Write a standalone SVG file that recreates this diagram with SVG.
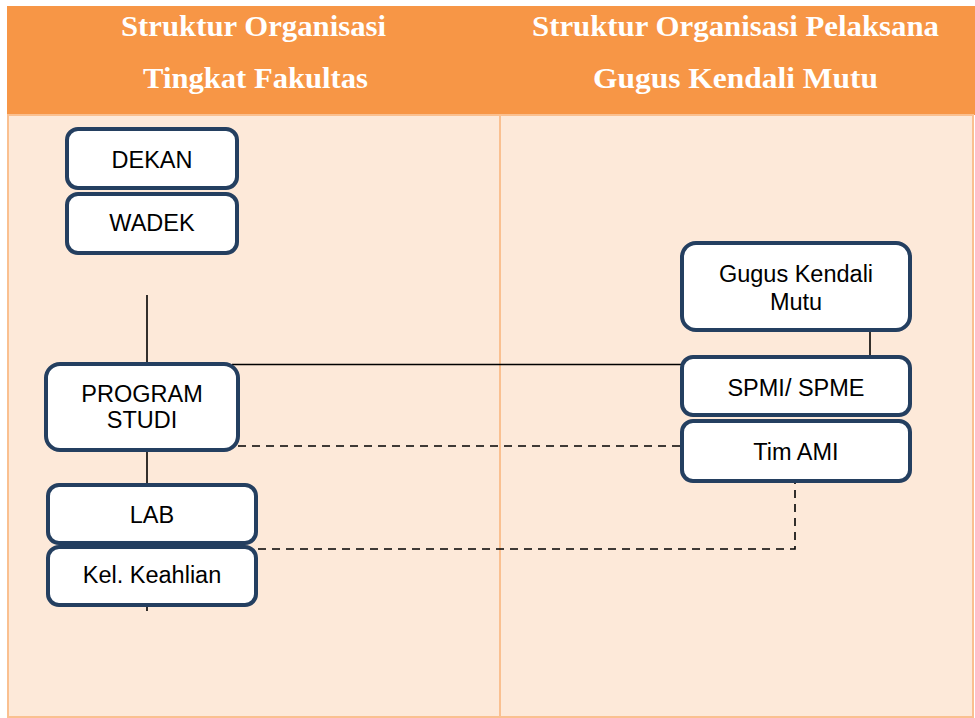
<svg xmlns="http://www.w3.org/2000/svg" width="975" height="718" viewBox="0 0 975 718">
<style>
.hdr{font-family:"Liberation Serif","Times New Roman",serif;font-weight:bold;font-size:29px;fill:#ffffff;}
.box{fill:#ffffff;stroke:#243f60;stroke-width:4;}
.lbl{font-family:"Liberation Sans",Arial,sans-serif;font-size:23.5px;fill:#000000;text-anchor:middle;}
.solid{stroke:#000000;stroke-width:1.6;fill:none;}
.dash{stroke:#000000;stroke-width:1.6;fill:none;stroke-dasharray:8 6;}
</style>
<rect x="0" y="0" width="975" height="718" fill="#ffffff"/>
<rect x="7" y="6" width="968" height="109" fill="#f79646"/>
<rect x="8" y="115" width="965" height="602" fill="#fde9d9" stroke="#fac090" stroke-width="2"/>
<line x1="500" y1="115" x2="500" y2="717" stroke="#fac090" stroke-width="2"/>
<g id="headers">
<text class="hdr" x="121" y="36" textLength="265" lengthAdjust="spacingAndGlyphs">Struktur Organisasi</text>
<text class="hdr" x="143" y="88" textLength="225" lengthAdjust="spacingAndGlyphs">Tingkat Fakultas</text>
<text class="hdr" x="532" y="36" textLength="407" lengthAdjust="spacingAndGlyphs">Struktur Organisasi Pelaksana</text>
<text class="hdr" x="593" y="88" textLength="285" lengthAdjust="spacingAndGlyphs">Gugus Kendali Mutu</text>
</g>
<g id="connectors">
<line class="solid" x1="147" y1="295" x2="147" y2="362"/>
<line class="solid" x1="147" y1="452" x2="147" y2="485"/>
<line class="solid" x1="147" y1="607" x2="147" y2="611"/>
<line class="solid" x1="232" y1="364.5" x2="684" y2="364.5"/>
<line class="solid" x1="870" y1="332" x2="870" y2="357"/>
<line class="dash" x1="238" y1="446" x2="682" y2="446"/>
<polyline class="dash" points="244,549 795,549 795,483"/>
</g>
<g id="dekan">
<rect class="box" x="67" y="129" width="170" height="59" rx="11"/>
<text class="lbl" x="152" y="168">DEKAN</text>
</g>
<g id="wadek">
<rect class="box" x="67" y="194" width="170" height="59" rx="11"/>
<text class="lbl" x="152" y="231">WADEK</text>
</g>
<g id="program-studi">
<rect class="box" x="46" y="364" width="192" height="86" rx="14"/>
<text class="lbl" x="142" y="402">PROGRAM</text>
<text class="lbl" x="142" y="428">STUDI</text>
</g>
<g id="lab">
<rect class="box" x="48" y="485" width="208" height="58" rx="11"/>
<text class="lbl" x="152" y="523">LAB</text>
</g>
<g id="kel-keahlian">
<rect class="box" x="48" y="547" width="208" height="58" rx="11"/>
<text class="lbl" x="152" y="583">Kel. Keahlian</text>
</g>
<g id="gugus-kendali-mutu">
<rect class="box" x="682" y="243" width="228" height="87" rx="14"/>
<text class="lbl" x="796" y="282">Gugus Kendali</text>
<text class="lbl" x="796" y="310">Mutu</text>
</g>
<g id="spmi-spme">
<rect class="box" x="682" y="357" width="228" height="58" rx="11"/>
<text class="lbl" x="796" y="396">SPMI/ SPME</text>
</g>
<g id="tim-ami">
<rect class="box" x="682" y="421" width="228" height="60" rx="11"/>
<text class="lbl" x="796" y="460">Tim AMI</text>
</g>
</svg>
